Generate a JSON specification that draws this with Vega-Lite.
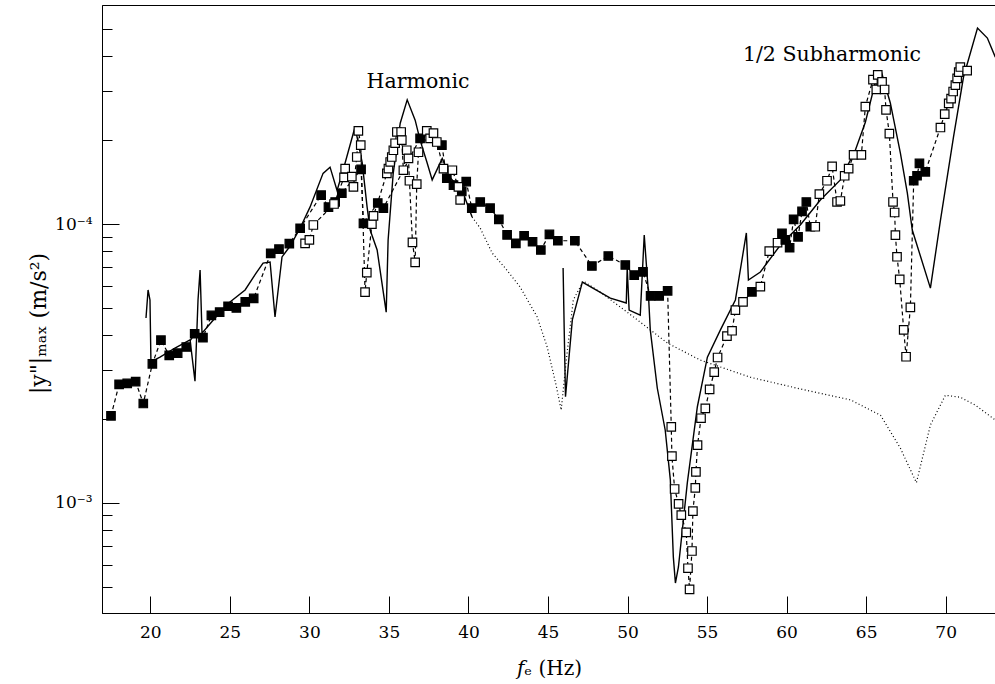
{
  "$schema": "https://vega.github.io/schema/vega-lite/v6.json",
  "autosize": "none",
  "padding": {"left": 102, "top": 5, "right": 0, "bottom": 71},
  "width": 894,
  "height": 608,
  "background": "white",
  "config": {"view": {"stroke": "black", "strokeWidth": 1}},
  "datasets": {
    "sim": [
      {"f":19.73,"a":0.0046,"c":"h"},{"f":19.86,"a":0.0058,"c":"h"},{"f":19.98,"a":0.00534,"c":"h"},{"f":20.04,"a":0.0032,"c":"h"},{"f":20.61,"a":0.00333,"c":"h"},{"f":21.55,"a":0.00359,"c":"h"},{"f":22.5,"a":0.00384,"c":"h"},{"f":22.81,"a":0.00273,"c":"h"},{"f":23.0,"a":0.00534,"c":"h"},{"f":23.13,"a":0.00684,"c":"h"},{"f":23.25,"a":0.00406,"c":"h"},{"f":24.07,"a":0.0046,"c":"h"},{"f":25.01,"a":0.00525,"c":"h"},{"f":25.96,"a":0.0058,"c":"h"},{"f":26.65,"a":0.00667,"c":"h"},{"f":27.09,"a":0.00724,"c":"h"},{"f":27.53,"a":0.00731,"c":"h"},{"f":27.84,"a":0.00464,"c":"h"},{"f":28.28,"a":0.00762,"c":"h"},{"f":28.79,"a":0.00834,"c":"h"},{"f":29.42,"a":0.00968,"c":"h"},{"f":30.04,"a":0.0115,"c":"h"},{"f":30.86,"a":0.0152,"c":"h"},{"f":31.3,"a":0.016,"c":"h"},{"f":31.74,"a":0.0132,"c":"h"},{"f":32.12,"a":0.0156,"c":"h"},{"f":32.87,"a":0.0223,"c":"h"},{"f":33.32,"a":0.0166,"c":"h"},{"f":33.63,"a":0.0115,"c":"h"},{"f":33.82,"a":0.00952,"c":"h"},{"f":34.26,"a":0.00807,"c":"h"},{"f":34.83,"a":0.00483,"c":"h"},{"f":34.95,"a":0.00877,"c":"h"},{"f":35.27,"a":0.0152,"c":"h"},{"f":35.71,"a":0.023,"c":"h"},{"f":36.15,"a":0.0279,"c":"h"},{"f":36.65,"a":0.0236,"c":"h"},{"f":36.96,"a":0.02,"c":"h"},{"f":37.4,"a":0.0166,"c":"h"},{"f":37.72,"a":0.0144,"c":"h"},{"f":38.35,"a":0.0172,"c":"h"},{"f":38.85,"a":0.0147,"c":"h"},{"f":39.67,"a":0.0129,"c":"h"},{"f":40.23,"a":0.0106,"c":"h"},
      {"f":40.23,"a":0.0106,"c":"d"},{"f":40.74,"a":0.00967,"c":"d"},{"f":41.49,"a":0.00787,"c":"d"},{"f":42.31,"a":0.00695,"c":"d"},{"f":43.25,"a":0.00594,"c":"d"},{"f":44.32,"a":0.00464,"c":"d"},{"f":44.95,"a":0.00362,"c":"d"},{"f":45.51,"a":0.00264,"c":"d"},{"f":45.83,"a":0.00215,"c":"d"},{"f":46.15,"a":0.00325,"c":"d"},{"f":46.59,"a":0.00534,"c":"d"},{"f":47.22,"a":0.00624,"c":"d"},{"f":48.29,"a":0.0057,"c":"d"},{"f":50.38,"a":0.00464,"c":"d"},{"f":52.51,"a":0.00374,"c":"d"},{"f":54.57,"a":0.00325,"c":"d"},{"f":57.72,"a":0.00282,"c":"d"},{"f":60.86,"a":0.00256,"c":"d"},{"f":64.01,"a":0.00234,"c":"d"},{"f":65.9,"a":0.00206,"c":"d"},{"f":67.15,"a":0.00157,"c":"d"},{"f":68.16,"a":0.00118,"c":"d"},{"f":69.04,"a":0.0019,"c":"d"},{"f":69.98,"a":0.00243,"c":"d"},{"f":70.92,"a":0.00239,"c":"d"},{"f":71.86,"a":0.00224,"c":"d"},{"f":73.12,"a":0.00198,"c":"d"},
      {"f":45.95,"a":0.00695,"c":"s"},{"f":46.02,"a":0.00417,"c":"s"},{"f":46.1,"a":0.0024,"c":"s"},{"f":46.53,"a":0.00453,"c":"s"},{"f":47.16,"a":0.00619,"c":"s"},{"f":48.92,"a":0.00542,"c":"s"},{"f":49.92,"a":0.00521,"c":"s"},{"f":49.98,"a":0.00695,"c":"s"},{"f":50.1,"a":0.00491,"c":"s"},{"f":50.8,"a":0.00471,"c":"s"},{"f":51.05,"a":0.00913,"c":"s"},{"f":51.3,"a":0.0058,"c":"s"},{"f":51.43,"a":0.00417,"c":"s"},{"f":51.87,"a":0.00258,"c":"s"},{"f":52.37,"a":0.00182,"c":"s"},{"f":52.69,"a":0.00121,"c":"s"},{"f":52.88,"a":0.000638,"c":"s"},{"f":53.01,"a":0.000515,"c":"s"},{"f":53.2,"a":0.000588,"c":"s"},{"f":53.76,"a":0.00118,"c":"s"},{"f":54.39,"a":0.00221,"c":"s"},{"f":55.02,"a":0.00333,"c":"s"},{"f":55.84,"a":0.00417,"c":"s"},{"f":56.78,"a":0.00534,"c":"s"},{"f":57.47,"a":0.00929,"c":"s"},{"f":57.6,"a":0.0063,"c":"s"},{"f":58.35,"a":0.00673,"c":"s"},{"f":59.61,"a":0.00841,"c":"s"},{"f":60.86,"a":0.00992,"c":"s"},{"f":62.12,"a":0.0122,"c":"s"},{"f":63.38,"a":0.0144,"c":"s"},{"f":64.32,"a":0.0184,"c":"s"},{"f":64.95,"a":0.0232,"c":"s"},{"f":65.58,"a":0.0323,"c":"s"},{"f":65.96,"a":0.0351,"c":"s"},{"f":66.52,"a":0.0272,"c":"s"},{"f":67.15,"a":0.018,"c":"s"},{"f":67.59,"a":0.0129,"c":"s"},{"f":67.9,"a":0.00952,"c":"s"},{"f":69.04,"a":0.00589,"c":"s"},{"f":69.67,"a":0.0103,"c":"s"},{"f":70.49,"a":0.0205,"c":"s"},{"f":71.12,"a":0.0337,"c":"s"},{"f":72.0,"a":0.0505,"c":"s"},{"f":72.62,"a":0.0465,"c":"s"},{"f":73.12,"a":0.0397,"c":"s"}
    ],
    "sq": [
      {"f":17.53,"a":0.00205,"m":"filled","s":"A"},{"f":18.04,"a":0.00266,"m":"filled","s":"A"},{"f":18.55,"a":0.00268,"m":"filled","s":"A"},{"f":19.08,"a":0.00272,"m":"filled","s":"A"},{"f":19.56,"a":0.00227,"m":"filled","s":"A"},{"f":20.13,"a":0.00315,"m":"filled","s":"A"},{"f":20.67,"a":0.00383,"m":"filled","s":"A"},{"f":21.19,"a":0.00338,"m":"filled","s":"A"},{"f":21.72,"a":0.00344,"m":"filled","s":"A"},{"f":22.26,"a":0.00362,"m":"filled","s":"A"},{"f":22.79,"a":0.00404,"m":"filled","s":"A"},{"f":23.31,"a":0.00391,"m":"filled","s":"A"},{"f":23.84,"a":0.0047,"m":"filled","s":"A"},{"f":24.36,"a":0.00483,"m":"filled","s":"A"},{"f":24.89,"a":0.00507,"m":"filled","s":"A"},{"f":25.41,"a":0.005,"m":"filled","s":"A"},{"f":25.97,"a":0.00526,"m":"filled","s":"A"},{"f":26.5,"a":0.00541,"m":"filled","s":"A"},{"f":27.57,"a":0.00785,"m":"filled","s":"A"},{"f":28.09,"a":0.00813,"m":"filled","s":"A"},{"f":28.74,"a":0.0085,"m":"filled","s":"A"},{"f":29.42,"a":0.00966,"m":"filled","s":"A"},{"f":30.74,"a":0.0127,"m":"filled","s":"A"},{"f":31.2,"a":0.0115,"m":"filled","s":"A"},{"f":31.62,"a":0.012,"m":"filled","s":"A"},{"f":32.04,"a":0.0129,"m":"filled","s":"A"},{"f":33.25,"a":0.0157,"m":"filled","s":"A"},{"f":33.4,"a":0.01006,"m":"filled","s":"A"},{"f":34.3,"a":0.0119,"m":"filled","s":"A"},{"f":34.65,"a":0.0114,"m":"filled","s":"A"},{"f":36.96,"a":0.0203,"m":"filled","s":"A"},{"f":38.33,"a":0.0192,"m":"filled","s":"A"},{"f":38.64,"a":0.0146,"m":"filled","s":"A"},{"f":39.06,"a":0.0138,"m":"filled","s":"A"},{"f":39.58,"a":0.0131,"m":"filled","s":"A"},{"f":39.86,"a":0.0142,"m":"filled","s":"A"},{"f":40.21,"a":0.0114,"m":"filled","s":"A"},{"f":40.74,"a":0.012,"m":"filled","s":"A"},{"f":41.36,"a":0.0114,"m":"filled","s":"A"},{"f":41.91,"a":0.0104,"m":"filled","s":"A"},{"f":42.43,"a":0.00914,"m":"filled","s":"A"},{"f":42.98,"a":0.00853,"m":"filled","s":"A"},{"f":43.5,"a":0.00908,"m":"filled","s":"A"},{"f":44.03,"a":0.00864,"m":"filled","s":"A"},{"f":44.55,"a":0.00807,"m":"filled","s":"A"},{"f":45.09,"a":0.00918,"m":"filled","s":"A"},{"f":45.62,"a":0.00871,"m":"filled","s":"A"},{"f":46.69,"a":0.00871,"m":"filled","s":"A"},{"f":47.76,"a":0.00707,"m":"filled","s":"A"},{"f":48.79,"a":0.00768,"m":"filled","s":"A"},{"f":49.86,"a":0.00713,"m":"filled","s":"A"},{"f":50.42,"a":0.00656,"m":"filled","s":"A"},{"f":50.97,"a":0.00674,"m":"filled","s":"A"},{"f":51.45,"a":0.00552,"m":"filled","s":"A"},{"f":51.99,"a":0.00552,"m":"filled","s":"A"},{"f":52.52,"a":0.00576,"m":"filled","s":"A"},
      {"f":52.75,"a":0.00187,"m":"open","s":"A"},{"f":52.79,"a":0.00147,"m":"open","s":"A"},{"f":52.96,"a":0.00112,"m":"open","s":"A"},{"f":53.21,"a":0.00099,"m":"open","s":"A"},{"f":53.38,"a":0.000903,"m":"open","s":"A"},{"f":53.69,"a":0.000783,"m":"open","s":"A"},{"f":53.8,"a":0.000582,"m":"open","s":"A"},{"f":53.9,"a":0.000489,"m":"open","s":"A"},{"f":54.05,"a":0.000671,"m":"open","s":"A"},{"f":54.11,"a":0.000933,"m":"open","s":"A"},{"f":54.26,"a":0.00113,"m":"open","s":"A"},{"f":54.3,"a":0.00129,"m":"open","s":"A"},{"f":54.4,"a":0.00161,"m":"open","s":"A"},{"f":54.62,"a":0.00201,"m":"open","s":"A"},{"f":54.89,"a":0.00218,"m":"open","s":"A"},{"f":55.16,"a":0.00255,"m":"open","s":"A"},{"f":55.45,"a":0.00294,"m":"open","s":"A"},{"f":55.66,"a":0.00332,"m":"open","s":"A"},{"f":56.25,"a":0.00396,"m":"open","s":"A"},{"f":56.57,"a":0.00414,"m":"open","s":"A"},{"f":56.78,"a":0.00491,"m":"open","s":"A"},{"f":57.26,"a":0.00526,"m":"open","s":"A"},
      {"f":57.82,"a":0.00571,"m":"filled","s":"A"},{"f":58.35,"a":0.00596,"m":"open","s":"A"},{"f":58.91,"a":0.008,"m":"open","s":"A"},{"f":59.43,"a":0.00857,"m":"open","s":"A"},{"f":59.71,"a":0.00926,"m":"filled","s":"A"},{"f":59.92,"a":0.00877,"m":"filled","s":"A"},{"f":60.19,"a":0.00822,"m":"filled","s":"A"},{"f":60.44,"a":0.0104,"m":"filled","s":"A"},{"f":60.72,"a":0.009,"m":"filled","s":"A"},{"f":60.97,"a":0.0111,"m":"filled","s":"A"},{"f":61.24,"a":0.012,"m":"filled","s":"A"},{"f":61.49,"a":0.00978,"m":"filled","s":"A"},{"f":61.8,"a":0.00978,"m":"open","s":"A"},{"f":62.06,"a":0.0128,"m":"open","s":"A"},{"f":62.54,"a":0.0143,"m":"open","s":"A"},{"f":62.86,"a":0.0161,"m":"open","s":"A"},{"f":63.17,"a":0.012,"m":"open","s":"A"},{"f":63.38,"a":0.0121,"m":"open","s":"A"},{"f":63.65,"a":0.0149,"m":"open","s":"A"},{"f":63.9,"a":0.0158,"m":"open","s":"A"},{"f":64.21,"a":0.0177,"m":"open","s":"A"},{"f":64.7,"a":0.0177,"m":"open","s":"A"},{"f":64.95,"a":0.0264,"m":"open","s":"A"},{"f":65.43,"a":0.033,"m":"open","s":"A"},{"f":65.64,"a":0.0304,"m":"open","s":"A"},{"f":65.73,"a":0.0343,"m":"open","s":"A"},{"f":66.0,"a":0.0324,"m":"open","s":"A"},{"f":66.16,"a":0.0304,"m":"open","s":"A"},{"f":66.25,"a":0.0257,"m":"open","s":"A"},{"f":66.46,"a":0.0211,"m":"open","s":"A"},{"f":66.69,"a":0.012,"m":"open","s":"A"},{"f":66.79,"a":0.011,"m":"open","s":"A"},{"f":66.84,"a":0.00913,"m":"open","s":"A"},{"f":66.94,"a":0.00763,"m":"open","s":"A"},{"f":67.11,"a":0.00633,"m":"open","s":"A"},{"f":67.36,"a":0.00417,"m":"open","s":"A"},{"f":67.51,"a":0.00334,"m":"open","s":"A"},{"f":67.78,"a":0.00502,"m":"open","s":"A"},{"f":67.99,"a":0.0143,"m":"filled","s":"A"},{"f":68.2,"a":0.0149,"m":"filled","s":"A"},{"f":68.35,"a":0.0165,"m":"filled","s":"A"},{"f":68.72,"a":0.0154,"m":"filled","s":"A"},{"f":69.67,"a":0.0222,"m":"open","s":"A"},{"f":69.94,"a":0.0248,"m":"open","s":"A"},{"f":70.19,"a":0.0271,"m":"open","s":"A"},{"f":70.34,"a":0.0282,"m":"open","s":"A"},{"f":70.47,"a":0.0299,"m":"open","s":"A"},{"f":70.61,"a":0.0315,"m":"open","s":"A"},{"f":70.72,"a":0.0333,"m":"open","s":"A"},{"f":70.82,"a":0.0351,"m":"open","s":"A"},{"f":70.92,"a":0.0366,"m":"open","s":"A"},{"f":71.35,"a":0.0355,"m":"open","s":"A"},
      {"f":29.73,"a":0.00853,"m":"open","s":"B"},{"f":30.0,"a":0.00877,"m":"open","s":"B"},{"f":30.25,"a":0.00992,"m":"open","s":"B"},{"f":31.55,"a":0.0118,"m":"open","s":"B"},{"f":32.18,"a":0.0147,"m":"open","s":"B"},{"f":32.25,"a":0.0158,"m":"open","s":"B"},{"f":32.67,"a":0.0148,"m":"open","s":"B"},{"f":32.77,"a":0.0136,"m":"open","s":"B"},{"f":32.98,"a":0.0174,"m":"open","s":"B"},{"f":33.08,"a":0.0216,"m":"open","s":"B"},{"f":33.23,"a":0.0192,"m":"open","s":"B"},{"f":33.5,"a":0.0057,"m":"open","s":"B"},{"f":33.61,"a":0.00669,"m":"open","s":"B"},{"f":33.93,"a":0.01,"m":"open","s":"B"},{"f":34.03,"a":0.0107,"m":"open","s":"B"},{"f":34.87,"a":0.0152,"m":"open","s":"B"},{"f":34.97,"a":0.0158,"m":"open","s":"B"},{"f":35.08,"a":0.0167,"m":"open","s":"B"},{"f":35.18,"a":0.0174,"m":"open","s":"B"},{"f":35.28,"a":0.0184,"m":"open","s":"B"},{"f":35.39,"a":0.0195,"m":"open","s":"B"},{"f":35.5,"a":0.0214,"m":"open","s":"B"},{"f":35.77,"a":0.0214,"m":"open","s":"B"},{"f":35.81,"a":0.02,"m":"open","s":"B"},{"f":35.91,"a":0.0156,"m":"open","s":"B"},{"f":36.12,"a":0.0184,"m":"open","s":"B"},{"f":36.23,"a":0.0172,"m":"open","s":"B"},{"f":36.29,"a":0.0143,"m":"open","s":"B"},{"f":36.48,"a":0.0086,"m":"open","s":"B"},{"f":36.65,"a":0.00729,"m":"open","s":"B"},{"f":36.75,"a":0.0139,"m":"open","s":"B"},{"f":36.86,"a":0.0181,"m":"open","s":"B"},{"f":37.38,"a":0.0216,"m":"open","s":"B"},{"f":37.59,"a":0.0203,"m":"open","s":"B"},{"f":37.8,"a":0.0212,"m":"open","s":"B"},{"f":38.01,"a":0.0197,"m":"open","s":"B"},{"f":38.43,"a":0.0158,"m":"open","s":"B"},{"f":38.99,"a":0.0156,"m":"open","s":"B"},{"f":39.37,"a":0.0136,"m":"open","s":"B"},{"f":39.48,"a":0.0122,"m":"open","s":"B"}
    ],
    "notes": [
      {"f":36.83,"a":0.0323,"t":"Harmonic"},
      {"f":62.85,"a":0.0404,"t":"1/2 Subharmonic"}
    ]
  },
  "encoding": {
    "x": {
      "field": "f", "type": "quantitative",
      "scale": {"domain": [16.964, 73.163], "nice": false, "zero": false},
      "axis": {
        "title": "𝑓ₑ (Hz)",
        "values": [20, 25, 30, 35, 40, 45, 50, 55, 60, 65, 70],
        "grid": false, "tickSize": -17, "labelPadding": 28,
        "domainColor": "black", "tickColor": "black", "labelColor": "black",
        "labelFont": "DejaVu Serif", "labelFontSize": 17,
        "titleFont": "DejaVu Serif", "titleFontSize": 20, "titleFontWeight": "normal", "titleColor": "black",
        "titlePadding": 18
      }
    },
    "y": {
      "field": "a", "type": "quantitative",
      "scale": {"type": "log", "domain": [0.000402, 0.0611], "nice": false},
      "axis": {
        "title": "|y\"|ₘₐₓ (m/s²)",
        "values": [0.0005, 0.0006, 0.0007, 0.0008, 0.0009, 0.001, 0.002, 0.003, 0.004, 0.005, 0.006, 0.007, 0.008, 0.009, 0.01, 0.02, 0.03, 0.04, 0.05],
        "labelExpr": "datum.value == 0.01 ? '10⁻⁴' : (datum.value == 0.001 ? '10⁻³' : '')",
        "grid": false,
        "tickSize": {"condition": {"test": "datum.value == 0.01 || datum.value == 0.001", "value": -17}, "value": -10},
        "labelPadding": 27,
        "domainColor": "black", "tickColor": "black", "labelColor": "black",
        "labelFont": "DejaVu Serif", "labelFontSize": 17,
        "titleFont": "DejaVu Serif", "titleFontSize": 22, "titleFontWeight": "normal", "titleColor": "black",
        "titlePadding": 4, "titleY": 318
      }
    }
  },
  "layer": [
    {
      "data": {"name": "sim"},
      "transform": [{"filter": "datum.c == 'd'"}],
      "mark": {"type": "line", "color": "black", "strokeWidth": 1.2, "strokeDash": [1, 2.5]},
      "encoding": {"detail": {"field": "c"}}
    },
    {
      "data": {"name": "sim"},
      "transform": [{"filter": "datum.c != 'd'"}],
      "mark": {"type": "line", "color": "black", "strokeWidth": 1.4},
      "encoding": {"detail": {"field": "c"}}
    },
    {
      "data": {"name": "sq"},
      "mark": {"type": "line", "color": "black", "strokeWidth": 1.2, "strokeDash": [4, 3]},
      "encoding": {"detail": {"field": "s"}}
    },
    {
      "data": {"name": "sq"},
      "mark": {"type": "point", "shape": "square", "size": 72, "stroke": "black", "strokeWidth": 1.2, "opacity": 1, "filled": true},
      "encoding": {
        "fill": {"field": "m", "type": "nominal", "scale": {"domain": ["filled", "open"], "range": ["black", "white"]}, "legend": null}
      }
    },
    {
      "data": {"name": "notes"},
      "mark": {"type": "text", "font": "DejaVu Serif", "fontSize": 20.5, "color": "black"},
      "encoding": {"text": {"field": "t"}}
    }
  ]
}
